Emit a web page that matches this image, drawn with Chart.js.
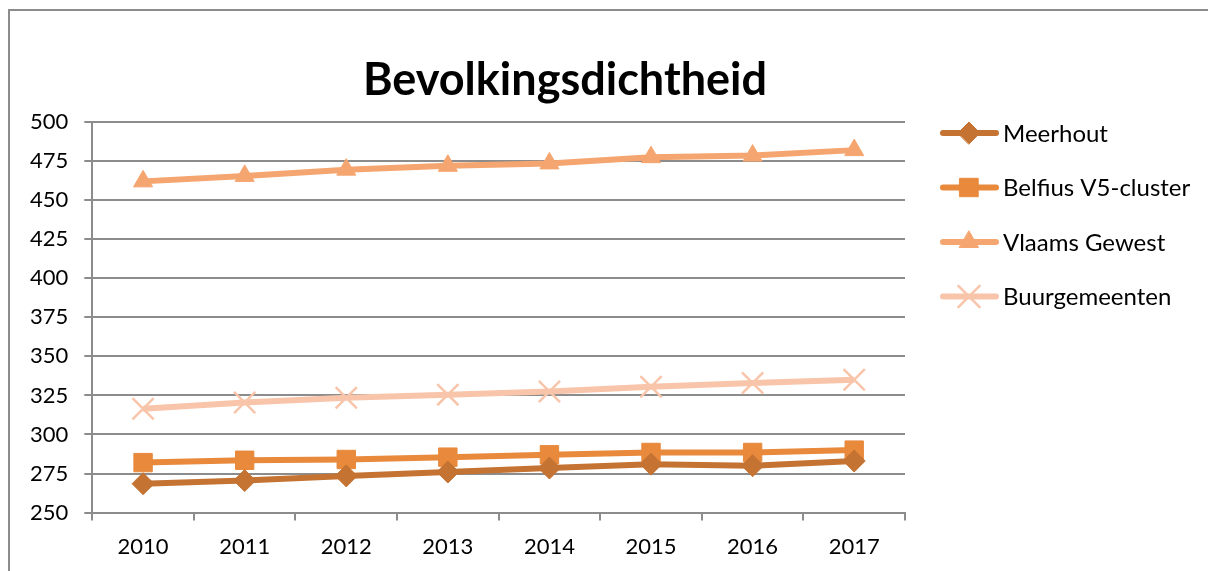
<!DOCTYPE html>
<html>
<head>
<meta charset="utf-8">
<script src="https://cdn.jsdelivr.net/npm/chart.js@4"></script>
<style>
  html, body { margin: 0; padding: 0; background: #fff; overflow: hidden; }
  #frame { position: absolute; left: 8px; top: 9px; width: 1400px; height: 800px; border: 2px solid #8c8c8c; box-sizing: border-box; }
  #wrap { position: absolute; left: 0; top: 0; width: 1208px; height: 571px; }
</style>
</head>
<body>
<div id="frame"></div>
<div id="wrap"><canvas id="myChart"></canvas></div>
<script>
// data
const years = ['2010', '2011', '2012', '2013', '2014', '2015', '2016', '2017'];
const meerhout = [268.5, 270.5, 273.5, 276, 278.5, 281, 280, 283];
const belfius = [282, 283.5, 284, 285.5, 287, 288.5, 288.5, 290];
const vlaams = [462, 465.5, 469.5, 472, 473.5, 477.5, 478.5, 482];
const buurgemeenten = [316.5, 320.5, 323.5, 325.5, 327.5, 330.5, 333, 335];
const titleText = 'Bevolkingsdichtheid';

const FONT = 'Lato, "Open Sans", sans-serif';

// titel en legende zelf tekenen (zoals in Excel)
const excelDeco = {
  id: 'excelDeco',
  afterDraw(chart) {
    const ctx = chart.ctx;
    ctx.save();
    ctx.fillStyle = '#000';
    ctx.font = 'bold 45px ' + FONT;
    ctx.textAlign = 'center';
    ctx.textBaseline = 'middle';
    ctx.fillText(titleText, 565, 80);

    ctx.font = '24px ' + FONT;
    ctx.textAlign = 'left';
    chart.data.datasets.forEach((ds, i) => {
      const y = 133 + i * 54.5;
      ctx.strokeStyle = ds.borderColor;
      ctx.lineWidth = 6;
      ctx.lineCap = 'round';
      ctx.beginPath();
      ctx.moveTo(943, y);
      ctx.lineTo(996, y);
      ctx.stroke();
      ctx.fillStyle = ds.pointBackgroundColor;
      ctx.strokeStyle = ds.pointBorderColor;
      ctx.lineWidth = ds.pointBorderWidth || 1;
      Chart.helpers.drawPoint(ctx, {
        pointStyle: ds.pointStyle,
        radius: ds.pointRadius,
        borderWidth: ds.pointBorderWidth || 1,
        rotation: 0
      }, 969, y);
      ctx.fillStyle = '#000';
      ctx.fillText(ds.label, 1003, y + 1);
    });
    ctx.restore();
  }
};

function serie(label, data, color, style, radius, bw) {
  return {
    label: label,
    data: data,
    borderColor: color,
    backgroundColor: color,
    pointBackgroundColor: color,
    pointBorderColor: color,
    pointStyle: style,
    pointRadius: radius,
    pointHoverRadius: radius,
    pointBorderWidth: bw,
    borderWidth: 6,
    tension: 0,
    fill: false
  };
}

const ctx = document.getElementById('myChart');
new Chart(ctx, {
  type: 'line',
  data: {
    labels: years,
    datasets: [
      serie('Meerhout', meerhout, '#c47332', 'rectRot', 11, 1),
      serie('Belfius V5-cluster', belfius, '#e8893c', 'rect', 13, 1),
      serie('Vlaams Gewest', vlaams, '#f5a56f', 'triangle', 11, 1),
      serie('Buurgemeenten', buurgemeenten, '#f8c5aa', 'crossRot', 15, 2.5)
    ]
  },
  options: {
    responsive: true,
    maintainAspectRatio: false,
    animation: false,
    layout: {
      padding: { left: 14, right: 303, top: 122, bottom: -2 }
    },
    plugins: {
      legend: { display: false },
      title: { display: false },
      tooltip: { enabled: false }
    },
    scales: {
      x: {
        offset: true,
        grid: {
          offset: true,
          drawOnChartArea: false,
          drawTicks: true,
          tickLength: 8,
          color: '#8c8c8c',
          lineWidth: 2
        },
        border: { display: true, color: '#8c8c8c', width: 2 },
        ticks: { color: '#000', font: { family: FONT, size: 22 }, padding: 13 }
      },
      y: {
        min: 250,
        max: 500,
        ticks: { stepSize: 25, color: '#000', font: { family: FONT, size: 22 }, padding: 16 },
        grid: {
          color: '#8c8c8c',
          lineWidth: 2,
          drawTicks: true,
          tickLength: 8
        },
        border: { display: true, color: '#8c8c8c', width: 2 }
      }
    }
  },
  plugins: [excelDeco]
});
</script>
</body>
</html>
